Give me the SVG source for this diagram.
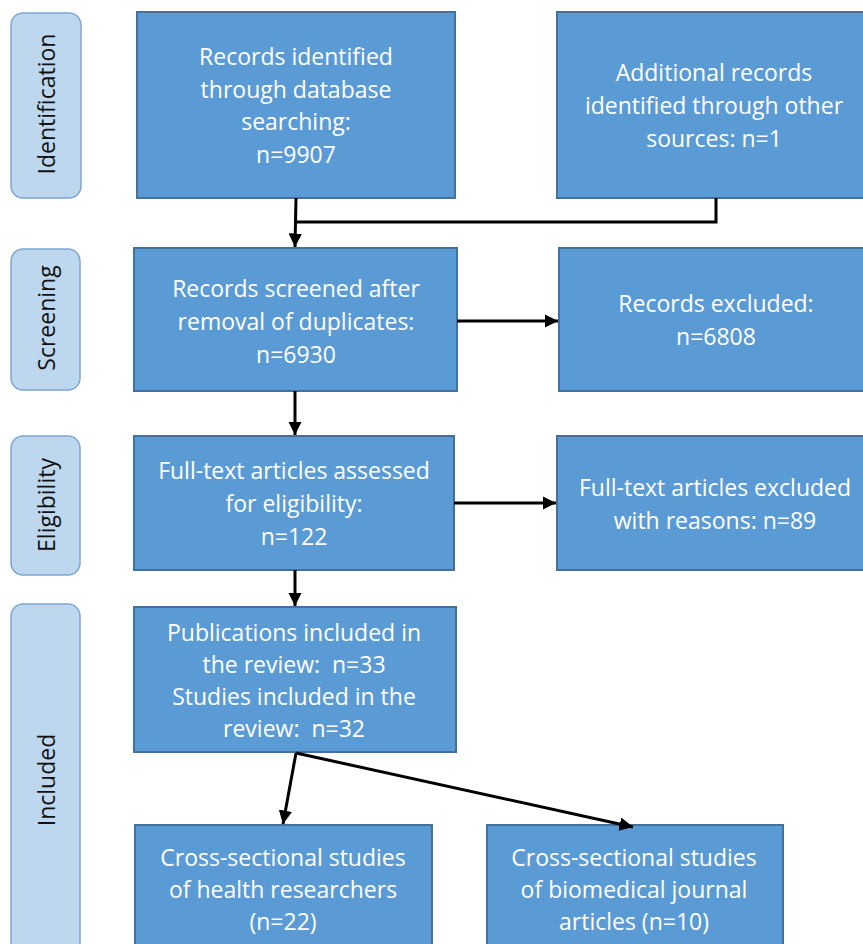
<svg xmlns="http://www.w3.org/2000/svg" width="863" height="944" viewBox="0 0 863 944">
<style>
.box{fill:#5B9BD5;stroke:#41719C;stroke-width:2}
.side{fill:#BDD7EE;stroke:#7EA6D2;stroke-width:1.5}
.t{font-family:"Open Sans","Liberation Sans",sans-serif;font-size:23px;fill:#fff;text-anchor:middle;dominant-baseline:central}
.s{font-family:"Open Sans","Liberation Sans",sans-serif;font-size:23px;fill:#111;text-anchor:middle;dominant-baseline:central}
.c{fill:none;stroke:#000;stroke-width:3}
</style>
<defs>
<marker id="ah" viewBox="0 0 10 10" refX="10" refY="5" markerWidth="4.5" markerHeight="4.5" orient="auto" markerUnits="strokeWidth">
<path d="M0,0 L10,5 L0,10 Z" fill="#000"/>
</marker>
</defs>
<rect width="863" height="944" fill="#fff"/>
<g id="side-identification"><rect class="side" x="11" y="13" width="70" height="185" rx="12"/><text class="s" transform="translate(46,104) rotate(-90)">Identification</text></g>
<g id="side-screening"><rect class="side" x="11" y="249" width="69" height="141" rx="12"/><text class="s" transform="translate(46,318) rotate(-90)">Screening</text></g>
<g id="side-eligibility"><rect class="side" x="11" y="436" width="69" height="139" rx="12"/><text class="s" transform="translate(46,505) rotate(-90)">Eligibility</text></g>
<g id="side-included"><rect class="side" x="11" y="604" width="69" height="360" rx="12"/><text class="s" transform="translate(46,780) rotate(-90)">Included</text></g>

<g id="n1"><rect class="box" x="137" y="12" width="318" height="186"/>
<text class="t" x="296" y="56">Records identified</text><text class="t" x="296" y="89">through database</text><text class="t" x="296" y="121">searching:</text><text class="t" x="296" y="154">n=9907</text></g>
<g id="n2"><rect class="box" x="557" y="12" width="310" height="186"/>
<text class="t" x="714" y="72">Additional records</text><text class="t" x="714" y="105">identified through other</text><text class="t" x="714" y="138">sources: n=1</text></g>
<g id="n3"><rect class="box" x="134" y="248" width="323" height="143"/>
<text class="t" x="296" y="288">Records screened after</text><text class="t" x="296" y="321">removal of duplicates:</text><text class="t" x="296" y="354">n=6930</text></g>
<g id="n4"><rect class="box" x="559" y="248" width="308" height="143"/>
<text class="t" x="716" y="303">Records excluded:</text><text class="t" x="716" y="336">n=6808</text></g>
<g id="n5"><rect class="box" x="134" y="436" width="320" height="134"/>
<text class="t" x="294" y="470">Full-text articles assessed</text><text class="t" x="294" y="503">for eligibility:</text><text class="t" x="294" y="536">n=122</text></g>
<g id="n6"><rect class="box" x="557" y="436" width="310" height="134"/>
<text class="t" x="715" y="487">Full-text articles excluded</text><text class="t" x="715" y="520">with reasons: n=89</text></g>
<g id="n7"><rect class="box" x="134" y="607" width="322" height="145"/>
<text class="t" x="294" y="632">Publications included in</text><text class="t" x="294" y="664" xml:space="preserve">the review:  n=33</text><text class="t" x="294" y="696">Studies included in the</text><text class="t" x="294" y="728" xml:space="preserve">review:  n=32</text></g>
<g id="n8"><rect class="box" x="135" y="825" width="297" height="130"/>
<text class="t" x="283" y="857">Cross-sectional studies</text><text class="t" x="283" y="889">of health researchers</text><text class="t" x="283" y="921">(n=22)</text></g>
<g id="n9"><rect class="box" x="487" y="825" width="296" height="130"/>
<text class="t" x="634" y="857">Cross-sectional studies</text><text class="t" x="634" y="889">of biomedical journal</text><text class="t" x="634" y="921">articles (n=10)</text></g>

<g id="connectors">
<path class="c" d="M716,198 V222 H296"/>
<path class="c" d="M296,198 L295,247" marker-end="url(#ah)"/>
<path class="c" d="M295,391 L295,435" marker-end="url(#ah)"/>
<path class="c" d="M295,570 L295,606" marker-end="url(#ah)"/>
<path class="c" d="M457,321 L558,321" marker-end="url(#ah)"/>
<path class="c" d="M454,503 L556,503" marker-end="url(#ah)"/>
<path class="c" d="M296,753 L283,824" marker-end="url(#ah)"/>
<path class="c" d="M296,753 L633,827" marker-end="url(#ah)"/>
</g>
</svg>
